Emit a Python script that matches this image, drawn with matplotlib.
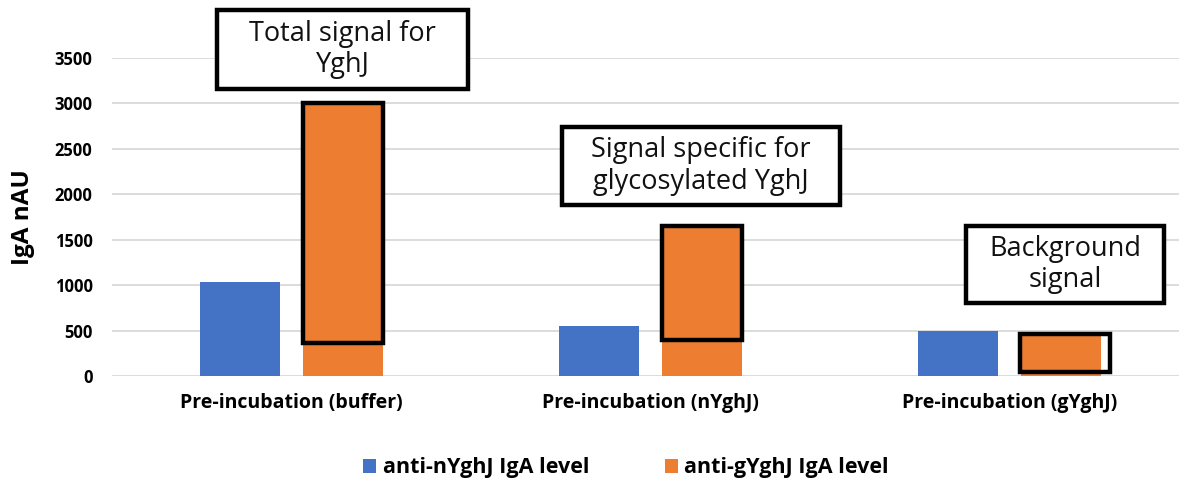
import numpy as np
import matplotlib.pyplot as plt
from matplotlib.patches import Rectangle

plt.rcParams['font.family'] = ['Open Sans', 'DejaVu Sans']

# Dados do gráfico
categories = ['Pre-incubation (buffer)', 'Pre-incubation (nYghJ)', 'Pre-incubation (gYghJ)']
anti_n = [1030, 555, 490]
anti_g = [3000, 1650, 450]
series_names = ['anti-nYghJ IgA level', 'anti-gYghJ IgA level']

# Destaques (faixas contornadas sobre as barras laranja)
highlight_low = [365, 395, 45]
highlight_high = [3010, 1650, 462]
notes = ['Total signal for\nYghJ', 'Signal specific for\nglycosylated YghJ', 'Background\nsignal']
note_y = [3593, 2311, 1227]

blue = '#4472C4'
orange = '#ED7D31'

fig = plt.figure(figsize=(11.79, 4.79), dpi=100)
ax = fig.add_axes([112 / 1179, 103 / 479, 1 - 112 / 1179, 318 / 479])

x = np.arange(len(categories))
w = 0.223
off = 0.1435
ax.bar(x - off, anti_n, w, color=blue, label=series_names[0], zorder=2)
ax.bar(x + off, anti_g, w, color=orange, label=series_names[1], zorder=2)

ax.set_xlim(-0.5, 2.472)
ax.set_ylim(0, 3500)
ax.set_yticks(np.arange(0, 3501, 500))
ax.grid(axis='y', color='#D9D9D9', linewidth=1.3, zorder=0)
for s in ax.spines.values():
    s.set_visible(False)
ax.tick_params(length=0)
ax.tick_params(axis='y', pad=14, labelsize=12)
ax.tick_params(axis='x', pad=12, labelsize=14)
ax.set_xticks(x)
ax.set_xticklabels(categories, fontweight='bold')
for t in ax.get_yticklabels():
    t.set_fontweight('bold')
ax.set_ylabel('IgA nAU', fontsize=17.5, fontweight='bold', labelpad=14)

# Contornos pretos sobre as barras laranja
box_left = [x[0] + off - w / 2, x[1] + off - w / 2, x[2] + off - w / 2 - 0.003]
box_width = [w, w, 0.251]
for i in range(3):
    ax.add_patch(Rectangle((box_left[i], highlight_low[i]), box_width[i],
                           highlight_high[i] - highlight_low[i], fill=False,
                           edgecolor='black', linewidth=3.2, zorder=3, clip_on=False))

# Caixas de anotação
note_x = [0.142, 1.141, 2.155]
note_w = [0.699, 0.774, 0.552]
note_h = [869, 858, 847]
for i in range(3):
    ax.add_patch(Rectangle((note_x[i] - note_w[i] / 2, note_y[i] - note_h[i] / 2), note_w[i], note_h[i],
                           facecolor='white', edgecolor='black', linewidth=3.2, zorder=4, clip_on=False))
    ax.text(note_x[i], note_y[i], notes[i], ha='center', va='center', fontsize=19.5,
            linespacing=1.15, color='#111111', zorder=5, clip_on=False)

fig.legend(loc='center', bbox_to_anchor=(0.531, 0.023), ncol=2, frameon=False,
           prop={'weight': 'bold', 'size': 15.5}, handlelength=0.6, handleheight=0.6,
           columnspacing=3.5, handletextpad=0.32)

fig.savefig('out.png', dpi=100)
